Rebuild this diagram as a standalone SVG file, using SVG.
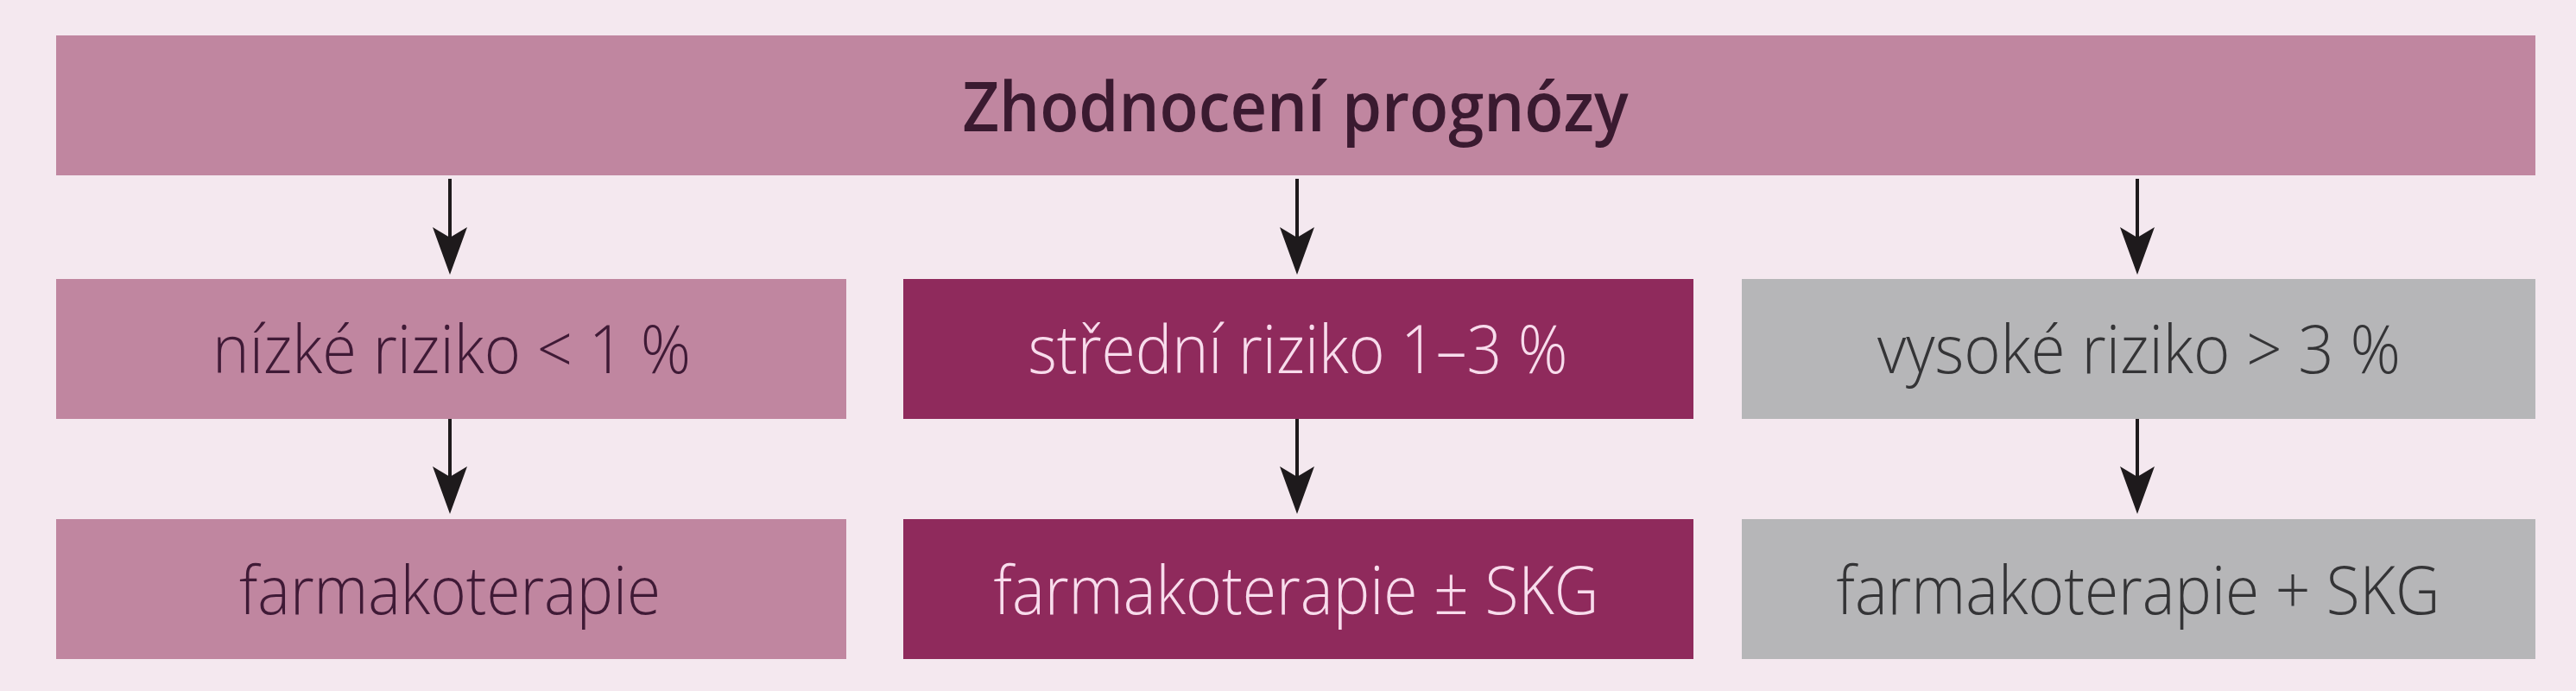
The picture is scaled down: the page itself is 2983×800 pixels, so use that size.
<svg xmlns="http://www.w3.org/2000/svg" width="2983" height="800" viewBox="0 0 2983 800">
  <defs>
    <style>
      .bg { fill: #f4e8ef; }
      .pink { fill: #c086a0; }
      .wine { fill: #8f2a5c; }
      .gray { fill: #b6b6b8; }
      .t { font-family: "Open Sans", "Liberation Sans", sans-serif; font-size: 78px; font-weight: 300; text-anchor: middle; }
      .title { font-weight: 600; font-size: 80px; fill: #3a1a30; }
      .dark { fill: #3f1a36; }
      .light { fill: #f8dcec; }
      .grayt { fill: #343436; }
      .conn { stroke: #1e1a1c; stroke-width: 4; fill: none; }
    </style>
    <marker id="arrow" viewBox="-1 -21 57 42" refX="35" refY="0" markerWidth="57" markerHeight="42" markerUnits="userSpaceOnUse" orient="auto">
      <path d="M0,-20 L12,0 L0,20 L55,0 Z" fill="#1e1a1c"/>
    </marker>
  </defs>
  <rect class="bg" x="0" y="0" width="2983" height="800"/>

  <g id="node-top">
    <rect class="pink" x="65" y="41" width="2871" height="162"/>
    <text class="t title" x="1500" y="152" textLength="771" lengthAdjust="spacingAndGlyphs">Zhodnocení prognózy</text>
  </g>

  <g id="node-low">
    <rect class="pink" x="65" y="323" width="915" height="162"/>
    <text class="t dark" x="523" y="432" textLength="554" lengthAdjust="spacingAndGlyphs">nízké riziko &lt; 1 %</text>
  </g>
  <g id="node-mid">
    <rect class="wine" x="1046" y="323" width="915" height="162"/>
    <text class="t light" x="1503" y="432" textLength="625" lengthAdjust="spacingAndGlyphs">střední riziko 1–3 %</text>
  </g>
  <g id="node-high">
    <rect class="gray" x="2017" y="323" width="919" height="162"/>
    <text class="t grayt" x="2477" y="432" textLength="606" lengthAdjust="spacingAndGlyphs">vysoké riziko &gt; 3 %</text>
  </g>

  <g id="node-low-therapy">
    <rect class="pink" x="65" y="601" width="915" height="162"/>
    <text class="t dark" x="521" y="711" textLength="488" lengthAdjust="spacingAndGlyphs">farmakoterapie</text>
  </g>
  <g id="node-mid-therapy">
    <rect class="wine" x="1046" y="601" width="915" height="162"/>
    <text class="t light" x="1501" y="711" textLength="701" lengthAdjust="spacingAndGlyphs">farmakoterapie ± SKG</text>
  </g>
  <g id="node-high-therapy">
    <rect class="gray" x="2017" y="601" width="919" height="162"/>
    <text class="t grayt" x="2476" y="711" textLength="699" lengthAdjust="spacingAndGlyphs">farmakoterapie + SKG</text>
  </g>

  <g id="connectors">
    <line class="conn" x1="521" y1="207" x2="521" y2="298" marker-end="url(#arrow)"/>
    <line class="conn" x1="1502" y1="207" x2="1502" y2="298" marker-end="url(#arrow)"/>
    <line class="conn" x1="2475" y1="207" x2="2475" y2="298" marker-end="url(#arrow)"/>
    <line class="conn" x1="521" y1="485" x2="521" y2="575" marker-end="url(#arrow)"/>
    <line class="conn" x1="1502" y1="485" x2="1502" y2="575" marker-end="url(#arrow)"/>
    <line class="conn" x1="2475" y1="485" x2="2475" y2="575" marker-end="url(#arrow)"/>
  </g>
</svg>
